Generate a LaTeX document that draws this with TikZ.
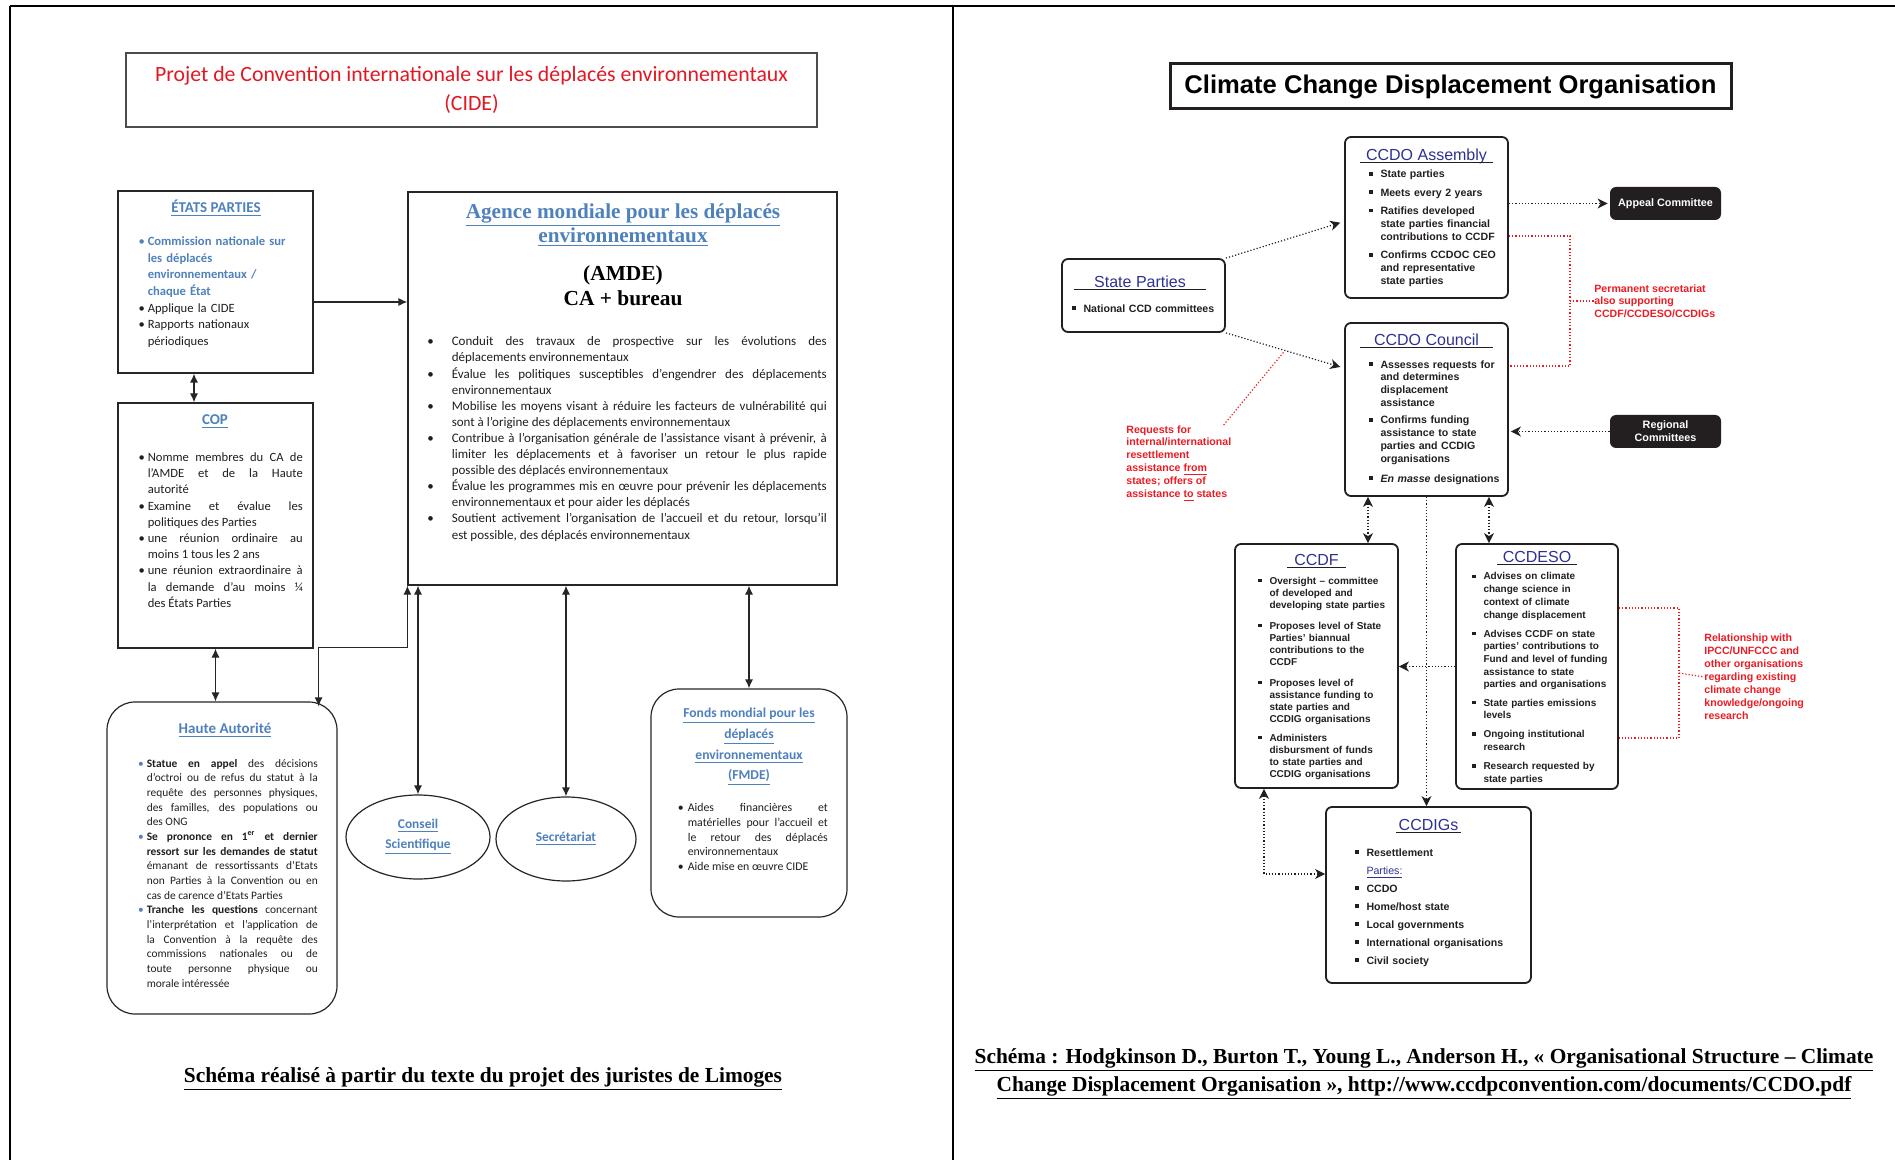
\documentclass[tikz,border=0pt]{standalone}
\usepackage{fontspec}
\setmainfont{Liberation Serif}
\newfontfamily\calib{Carlito}
\newfontfamily\helv{Liberation Sans}
\usetikzlibrary{positioning, calc, shapes.geometric, arrows.meta}

\definecolor{wordblue}{RGB}{79,129,189}
\definecolor{cidered}{RGB}{226,24,36}
\definecolor{navy}{RGB}{46,49,146}
\definecolor{notered}{RGB}{237,28,36}
\definecolor{ink}{RGB}{35,31,32}

\newcommand{\fsz}[2]{\fontsize{#1}{#2}\selectfont}
\newcommand{\bul}[1][1.5pt]{\noindent\llap{\textbullet\hspace{#1}}}
\newcommand{\bbul}[1][1.5pt]{\noindent\llap{\textcolor{wordblue}{\textbullet}\hspace{#1}}}
\newcommand{\sqb}{\noindent\llap{\rule[0.2em]{0.34em}{0.34em}\hspace{4pt}}}
\newcommand{\itemgap}[1][2.7pt]{\par\vspace{#1}}

\tikzset{
	% CIDE (left page)
	lbox/.style={rectangle, draw=black!85, line width=0.6pt, inner sep=0},
	lround/.style={lbox, rounded corners=14pt},
	lell/.style={ellipse, draw=black!85, line width=0.6pt, inner sep=0,
		font=\calib\bfseries\fsz{6.7}{10}, text=wordblue, align=center},
	ltitle/.style={font=\calib\bfseries\fsz{7.5}{9}, text=wordblue, inner sep=0,
		text height=5.5pt, text depth=1.5pt},
	ltext/.style={font=\calib\fsz{6.3}{8}, text=black!88, inner sep=0, align=justify},
	arr/.style={draw=black!85, line width=0.6pt, -{Latex[length=4.5pt,width=4pt]}},
	dbl/.style={arr, {Latex[length=4.5pt,width=4pt]}-{Latex[length=4.5pt,width=4pt]}},
	caption/.style={font=\bfseries\fsz{10.7}{14}, align=center, inner sep=0},
	% CCDO (right page)
	rbox/.style={rectangle, draw=ink, line width=0.9pt, rounded corners=3pt, inner sep=0,
		minimum width=81.5pt},
	rtitle/.style={font=\helv\fsz{8}{9}, text=navy, inner xsep=3pt, inner ysep=0.5pt,
		text height=6pt, text depth=0.5pt,
		append after command={(\tikzlastnode.south west) edge[draw=ink, line width=0.5pt] (\tikzlastnode.south east)}},
	rtext/.style={font=\helv\bfseries\fsz{5.3}{6.5}, text=ink, inner sep=0, align=left,
		text width=85pt},
	darkbox/.style={rectangle, fill=ink, rounded corners=3pt, inner sep=0,
		minimum width=55.5pt, minimum height=16.5pt,
		font=\helv\bfseries\fsz{5.4}{6.4}, text=white, align=center},
	note/.style={font=\helv\bfseries\fsz{5.3}{6.3}, text=notered, align=left, inner sep=0},
	dotarr/.style={draw=ink, densely dotted, line width=0.6pt,
		-{Stealth[length=5pt,width=5pt,inset=1.5pt]}},
	dotdbl/.style={dotarr,
		{Stealth[length=5pt,width=5pt,inset=1.5pt]}-{Stealth[length=5pt,width=5pt,inset=1.5pt]}},
	reddot/.style={draw=notered, densely dotted, line width=0.6pt},
}

\begin{document}
\begin{tikzpicture}[x=0.5pt, y=0.5pt]
	\path[use as bounding box, fill=white] (0,0) rectangle (1895,-1160);
	\draw[line width=1.4pt] (10,-6) -- (1895,-6);
	\draw[line width=0.7pt] (10,-6) -- (10,-1160);
	\draw[line width=0.7pt] (953,-6) -- (953,-1160);

	%% CIDE
	\node (cide) [lbox, draw=black!70, minimum width=345.5pt, minimum height=37pt,
		font=\calib\fsz{10.9}{14.5}, text=cidered, align=center] at (471.5,-90)
		{Projet de Convention internationale sur les déplacés environnementaux\\(CIDE)};

	\node (etats) [lbox, minimum width=97.5pt, minimum height=91pt] at (215.5,-282) {};
	\node (etatsT) [ltitle] at (216,-209) {\underline{ÉTATS PARTIES}};
	\node (etatsL) [ltext, align=left, text width=80pt, font=\calib\fsz{6.3}{8.3},
		below right=23pt and 15pt of etats.north west]
		{\bbul\textcolor{wordblue}{\bfseries Commission nationale sur\\les déplacés\\environnementaux /\\chaque État}\par
		\bul Applique la CIDE\par
		\bul Rapports nationaux\\périodiques};

	\node (cop) [lbox, minimum width=97.5pt, minimum height=122.5pt] at (215.5,-525.5) {};
	\node (copT) [ltitle] at (215,-420) {\underline{COP}};
	\node (copL) [ltext, text width=77.5pt, font=\calib\fsz{6.3}{8.1},
		below right=25pt and 15pt of cop.north west]
		{\bul Nomme membres du CA de\linebreak l’AMDE et de la Haute\linebreak autorité\par
		\bul Examine et évalue les\linebreak politiques des Parties\par
		\bul une réunion ordinaire au\linebreak moins 1 tous les 2 ans\par
		\bul une réunion extraordinaire à\linebreak la demande d’au moins ¼\linebreak des États Parties};

	\node (amde) [lbox, minimum width=214.5pt, minimum height=196.5pt] at (622.5,-388.5) {};
	\node (amdeT) [font=\bfseries\fsz{10.6}{12}, text=wordblue, align=center] at (623,-225)
		{\underline{Agence mondiale pour les déplacés}\\\underline{environnementaux}};
	\node (amdeS) [font=\bfseries\fsz{10.7}{12.5}, align=center] at (623,-286)
		{(AMDE)\\CA + bureau};
	\node (amdeL) [ltext, text width=187.5pt, font=\calib\fsz{6.5}{8.05},
		below right=72.5pt and 22pt of amde.north west]
		{\bul[9pt]Conduit des travaux de prospective sur les évolutions des\linebreak déplacements environnementaux\par
		\bul[9pt]Évalue les politiques susceptibles d’engendrer des déplacements\linebreak environnementaux\par
		\bul[9pt]Mobilise les moyens visant à réduire les facteurs de vulnérabilité qui\linebreak sont à l’origine des déplacements environnementaux\par
		\bul[9pt]Contribue à l’organisation générale de l’assistance visant à prévenir, à\linebreak limiter les déplacements et à favoriser un retour le plus rapide\linebreak possible des déplacés environnementaux\par
		\bul[9pt]Évalue les programmes mis en œuvre pour prévenir les déplacements\linebreak environnementaux et pour aider les déplacés\par
		\bul[9pt]Soutient activement l’organisation de l’accueil et du retour, lorsqu’il\linebreak est possible, des déplacés environnementaux};

	\node (haute) [lround, minimum width=115pt, minimum height=156pt] at (222,-858) {};
	\node (hauteT) [ltitle] at (225,-729) {\underline{Haute Autorité}};
	\node (hauteL) [ltext, text width=85.5pt, font=\calib\fsz{5.7}{7.33},
		below right=28.7pt and 20pt of haute.north west]
		{\bbul\textbf{Statue en appel} des décisions\linebreak d’octroi ou de refus du statut à la\linebreak requête des personnes physiques,\linebreak des familles, des populations ou\linebreak des ONG\par
		\bbul\textbf{Se prononce en 1\textsuperscript{er} et dernier\linebreak ressort sur les demandes de statut}\linebreak émanant de ressortissants d’Etats\linebreak non Parties à la Convention ou en\linebreak cas de carence d’Etats Parties\par
		\bbul\textbf{Tranche les questions} concernant\linebreak l’interprétation et l’application de\linebreak la Convention à la requête des\linebreak commissions nationales ou de\linebreak toute personne physique ou\linebreak morale intéressée};

	\node (conseil) [lell, minimum width=72pt, minimum height=42pt] at (418,-837)
		{\underline{Conseil}\\\underline{Scientifique}};
	\node (secr) [lell, minimum width=70pt, minimum height=42pt] at (566,-839)
		{\underline{Secrétariat}};

	\node (fmde) [lround, minimum width=98pt, minimum height=114pt] at (749,-803) {};
	\node (fmdeT) [font=\calib\bfseries\fsz{6.8}{10.3}, text=wordblue, align=center, inner sep=0]
		at (749,-747) {\underline{Fonds mondial pour les}\\\underline{déplacés}\\\underline{environnementaux}\\\underline{(FMDE)}};
	\node (fmdeL) [ltext, text width=70pt, font=\calib\fsz{5.9}{7.4},
		below right=57.3pt and 18.5pt of fmde.north west]
		{\bul[2pt]Aides financières et\linebreak matérielles pour l’accueil et\linebreak le retour des déplacés\linebreak environnementaux\par
		\bul[2pt]Aide mise en œuvre CIDE};

	\coordinate (ec) at ([xshift=-10.75pt]etats.south);
	\draw[dbl] (ec) -- (ec |- cop.north);
	\coordinate (e2a) at ([yshift=-10pt]etats.east);
	\draw[arr] (e2a) -- (e2a -| amde.west);
	\draw[dbl] (cop.south) -- (cop.south |- haute.north);
	\coordinate (hautein) at ($(haute.north east)+(-19,-5)$);
	\draw[dbl] (amde.south west) -- ++(0,-62) -| (hautein);
	\draw[dbl] (amde.south -| conseil.north) -- (conseil.north);
	\draw[dbl] (amde.south -| secr.north) -- (secr.north);
	\draw[dbl] (amde.south -| fmde.north) -- (fmde.north);

	\node (capL) [caption] at (483,-1079)
		{\underline{Schéma réalisé à partir du texte du projet des juristes de Limoges}};

	%% CCDO
	\node (ccdo) [rectangle, draw=ink, line width=1.5pt, inner sep=0, minimum width=280.5pt,
		minimum height=22.5pt, font=\helv\bfseries\fsz{12.8}{14}] at (1450.5,-86.5)
		{Climate Change Displacement Organisation};

	\node (state) [rbox, minimum height=36.5pt] at (1143.5,-295.5) {};
	\node (stateT) [rtitle, inner xsep=10pt, below=7.9pt of state.north, xshift=-1.75pt] {State Parties};
	\node (stateL) [rtext, below right=23pt and 11pt of state.north west] {\sqb National CCD committees};

	\node (asm) [rbox, minimum height=80.5pt] at (1426.5,-217.5) {};
	\node (asmT) [rtitle, below=5.4pt of asm.north] {CCDO Assembly};
	\node (asmL) [rtext, below right=16.8pt and 18pt of asm.north west]
		{\sqb State parties\itemgap
		\sqb Meets every 2 years\itemgap
		\sqb Ratifies developed\\state parties financial\\contributions to CCDF\itemgap
		\sqb Confirms CCDOC CEO\\and representative\\state parties};
	\node (appeal) [darkbox] at (1665.5,-203.5) {Appeal Committee};

	\node (council) [rbox, minimum height=86.5pt] at (1426.5,-409.5) {};
	\node (councilT) [rtitle, inner xsep=7pt, below=4.9pt of council.north] {CCDO Council};
	\node (councilL) [rtext, font=\helv\bfseries\fsz{5.3}{6.4},
		below right=19pt and 18pt of council.north west]
		{\sqb Assesses requests for\\and determines\\displacement\\assistance\itemgap[2.2pt]
		\sqb Confirms funding\\assistance to state\\parties and CCDIG\\organisations\itemgap[3.6pt]
		\sqb \textit{En masse} designations};
	\node (regional) [darkbox] at (1665.5,-431.5) {Regional\\Committees};

	\node (ccdf) [rbox, minimum height=122pt] at (1316.5,-666) {};
	\node (ccdfT) [rtitle, inner xsep=3.5pt, below=4.4pt of ccdf.north] {CCDF};
	\node (ccdfL) [rtext, font=\helv\bfseries\fsz{5}{6},
		below right=16.8pt and 17.5pt of ccdf.north west]
		{\sqb Oversight – committee\\of developed and\\developing state parties\itemgap[4.5pt]
		\sqb Proposes level of State\\Parties’ biannual\\contributions to the\\CCDF\itemgap[4.5pt]
		\sqb Proposes level of\\assistance funding to\\state parties and\\CCDIG organisations\itemgap[3.5pt]
		\sqb Administers\\disbursment of funds\\to state parties and\\CCDIG organisations};

	\node (ccdeso) [rbox, minimum width=81pt, minimum height=122.5pt] at (1537,-666.5) {};
	\node (ccdesoT) [rtitle, inner xsep=2.5pt, below=2.9pt of ccdeso.north] {CCDESO};
	\node (ccdesoL) [rtext, font=\helv\bfseries\fsz{5}{6.35},
		below right=14.6pt and 14pt of ccdeso.north west]
		{\sqb Advises on climate\\change science in\\context of climate\\change displacement\itemgap[3.2pt]
		\sqb Advises CCDF on state\\parties’ contributions to\\Fund and level of funding\\assistance to state\\parties and organisations\itemgap
		\sqb State parties emissions\\levels\itemgap[3.2pt]
		\sqb Ongoing institutional\\research\itemgap[3.2pt]
		\sqb Research requested by\\state parties};

	\node (ccdig) [rbox, minimum width=102.5pt, minimum height=88pt] at (1428.5,-895) {};
	\node (ccdigT) [rtitle, inner xsep=1pt, below=5.4pt of ccdig.north] {CCDIGs};
	\node (ccdigL) [rtext, font=\helv\bfseries\fsz{5.3}{9},
		below right=21pt and 20.5pt of ccdig.north west]
		{\sqb Resettlement\par
		\noindent{\mdseries\textcolor{navy}{\underline{Parties:}}}\par
		\sqb CCDO\par
		\sqb Home/host state\par
		\sqb Local governments\par
		\sqb International organisations\par
		\sqb Civil society};

	\node (perm) [note, font=\helv\bfseries\fsz{5.3}{6.25}, anchor=west] at (1594,-301)
		{Permanent secretariat\\also supporting\\CCDF/CCDESO/CCDIGs};
	\node (req) [note, font=\helv\bfseries\fsz{5.3}{6.4}, anchor=north west] at (1126,-425)
		{Requests for\\internal/international\\resettlement\\assistance \underline{from}\\states; offers of\\assistance \underline{to} states};
	\node (rel) [note, font=\helv\bfseries\fsz{5.3}{6.5}, anchor=west] at (1704,-677)
		{Relationship with\\IPCC/UNFCCC and\\other organisations\\regarding existing\\climate change\\knowledge/ongoing\\research};

	\draw[dotarr, shorten >=2pt] (state.north east) -- ([yshift=-2pt]asm.west);
	\draw[dotarr, shorten >=2pt] (state.south east) -- coordinate[pos=0.5] (reqpt)
		([yshift=-23pt]council.north west);
	\draw[reddot] ([xshift=-4pt]req.north east) -- (reqpt);
	\draw[dotarr, shorten >=1pt] (asm.east |- appeal.west) -- (appeal.west);
	\draw[dotarr, shorten >=1pt] (regional.west) -- (council.east |- regional.west);
	\coordinate (permbr) at (1570,-301);
	\draw[reddot] ([yshift=-9.25pt]asm.east) -| (permbr) |- ([yshift=21.75pt]council.east);
	\draw[reddot] (permbr) -- (perm.west);
	\coordinate (cfl) at ([xshift=-29.25pt]council.south);
	\draw[dotdbl] (cfl) -- (cfl |- ccdf.north);
	\coordinate (cfr) at ([xshift=31.25pt]council.south);
	\draw[dotdbl] (cfr) -- (cfr |- ccdeso.north);
	\draw[dotarr] (council.south) -- (council.south |- ccdig.north);
	\draw[dotarr] (ccdeso.west) -- (ccdf.east |- ccdeso.west);
	\coordinate (fdl) at ([xshift=-26.25pt]ccdf.south);
	\draw[dotdbl] (fdl) |- ([yshift=10.5pt]ccdig.west);
	\coordinate (relbr) at (1679,-673);
	\draw[reddot] ([yshift=29.25pt]ccdeso.east) -| (relbr) |- ([yshift=-35.75pt]ccdeso.east);
	\draw[reddot] (relbr) -- (rel.west);

	\node (capR) [caption] at (1424,-1074)
		{\underline{Schéma : Hodgkinson D., Burton T., Young L., Anderson H., « Organisational Structure – Climate}\\\underline{Change Displacement Organisation », http://www.ccdpconvention.com/documents/CCDO.pdf}};
\end{tikzpicture}
\end{document}
